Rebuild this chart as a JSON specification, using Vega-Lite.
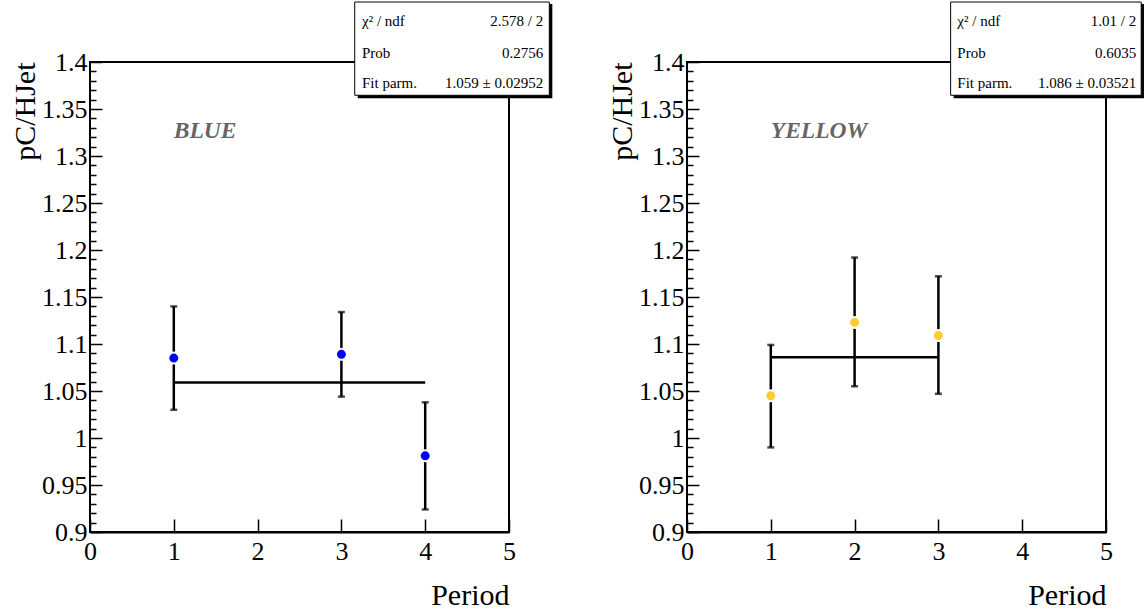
{
  "$schema": "https://vega.github.io/schema/vega-lite/v6.json",
  "padding": {"left": 9, "top": 0, "right": 0, "bottom": 0},
  "background": "white",
  "datasets": {
    "points": [
      {"panel": "BLUE", "period": 1, "ratio": 1.085, "lo": 1.030, "hi": 1.140},
      {"panel": "BLUE", "period": 3, "ratio": 1.089, "lo": 1.044, "hi": 1.134},
      {"panel": "BLUE", "period": 4, "ratio": 0.981, "lo": 0.924, "hi": 1.038},
      {"panel": "YELLOW", "period": 1, "ratio": 1.045, "lo": 0.990, "hi": 1.099},
      {"panel": "YELLOW", "period": 2, "ratio": 1.123, "lo": 1.055, "hi": 1.192},
      {"panel": "YELLOW", "period": 3, "ratio": 1.109, "lo": 1.047, "hi": 1.172}
    ],
    "fits": [
      {"panel": "BLUE", "from": 1, "to": 4, "value": 1.059},
      {"panel": "YELLOW", "from": 1, "to": 3, "value": 1.086}
    ],
    "stats": [
      {"panel": "BLUE", "row": 1, "key": "χ² / ndf", "val": "2.578 / 2"},
      {"panel": "BLUE", "row": 2, "key": "Prob", "val": "0.2756"},
      {"panel": "BLUE", "row": 3, "key": "Fit parm.", "val": "1.059 ± 0.02952"},
      {"panel": "YELLOW", "row": 1, "key": "χ² / ndf", "val": "1.01 / 2"},
      {"panel": "YELLOW", "row": 2, "key": "Prob", "val": "0.6035"},
      {"panel": "YELLOW", "row": 3, "key": "Fit parm.", "val": "1.086 ± 0.03521"}
    ],
    "labels": [
      {"panel": "BLUE", "name": "BLUE"},
      {"panel": "YELLOW", "name": "YELLOW"}
    ]
  },
  "hconcat": [
    {
      "width": 419,
      "height": 470,
      "resolve": {"scale": {"y": "independent"}, "axis": {"y": "independent"}},
      "layer": [
        {
          "layer": [
            {"data": {"values": [{}]}, "mark": {"type": "rect", "color": "black"},
             "encoding": {"x": {"datum": 3.195, "type": "quantitative", "scale": {"domain": [0, 5], "nice": false, "zero": false}, "axis": {"values": [0, 1, 2, 3, 4, 5], "format": "~g", "title": "Period"}},
               "x2": {"datum": 5.517}, "y": {"datum": 1.4617, "type": "quantitative", "scale": {"domain": [0.9, 1.4], "nice": false, "zero": false},
                 "axis": {"title": "pC/HJet", "orient": "left", "offset": -12, "domain": false, "values": [0.9, 0.95, 1.0, 1.05, 1.1, 1.15, 1.2, 1.25, 1.3, 1.35, 1.4], "format": "~g", "tickSize": 12, "labelPadding": 3, "titleX": -62}}, "y2": {"datum": 1.3614}}},
            {"data": {"values": [{}]}, "mark": {"type": "rect", "fill": "white", "stroke": "black", "strokeWidth": 1},
             "encoding": {"x": {"datum": 3.159, "type": "quantitative"}, "x2": {"datum": 5.481}, "y": {"datum": 1.4638, "type": "quantitative"}, "y2": {"datum": 1.3646}}},
            {"data": {"name": "stats"}, "transform": [{"filter": "datum.panel == 'BLUE' && datum.row == 1"}],
             "mark": {"type": "text", "font": "Liberation Serif", "fontSize": 15, "align": "left", "baseline": "middle", "color": "black"},
             "encoding": {"x": {"datum": 3.246, "type": "quantitative"}, "y": {"datum": 1.4436, "type": "quantitative"}, "text": {"field": "key"}}},
            {"data": {"name": "stats"}, "transform": [{"filter": "datum.panel == 'BLUE' && datum.row == 1"}],
             "mark": {"type": "text", "font": "Liberation Serif", "fontSize": 15, "align": "right", "baseline": "middle", "color": "black"},
             "encoding": {"x": {"datum": 5.409, "type": "quantitative"}, "y": {"datum": 1.4436, "type": "quantitative"}, "text": {"field": "val"}}},
            {"data": {"name": "stats"}, "transform": [{"filter": "datum.panel == 'BLUE' && datum.row == 2"}],
             "mark": {"type": "text", "font": "Liberation Serif", "fontSize": 15, "align": "left", "baseline": "middle", "color": "black"},
             "encoding": {"x": {"datum": 3.246, "type": "quantitative"}, "y": {"datum": 1.4096, "type": "quantitative"}, "text": {"field": "key"}}},
            {"data": {"name": "stats"}, "transform": [{"filter": "datum.panel == 'BLUE' && datum.row == 2"}],
             "mark": {"type": "text", "font": "Liberation Serif", "fontSize": 15, "align": "right", "baseline": "middle", "color": "black"},
             "encoding": {"x": {"datum": 5.409, "type": "quantitative"}, "y": {"datum": 1.4096, "type": "quantitative"}, "text": {"field": "val"}}},
            {"data": {"name": "stats"}, "transform": [{"filter": "datum.panel == 'BLUE' && datum.row == 3"}],
             "mark": {"type": "text", "font": "Liberation Serif", "fontSize": 15, "align": "left", "baseline": "middle", "color": "black"},
             "encoding": {"x": {"datum": 3.246, "type": "quantitative"}, "y": {"datum": 1.3777, "type": "quantitative"}, "text": {"field": "key"}}},
            {"data": {"name": "stats"}, "transform": [{"filter": "datum.panel == 'BLUE' && datum.row == 3"}],
             "mark": {"type": "text", "font": "Liberation Serif", "fontSize": 15, "align": "right", "baseline": "middle", "color": "black"},
             "encoding": {"x": {"datum": 5.409, "type": "quantitative"}, "y": {"datum": 1.3777, "type": "quantitative"}, "text": {"field": "val"}}},
            {"data": {"name": "fits"}, "transform": [{"filter": "datum.panel == 'BLUE'"}],
             "mark": {"type": "rule", "color": "black", "strokeWidth": 2.5},
             "encoding": {"x": {"field": "from", "type": "quantitative"}, "x2": {"field": "to"}, "y": {"field": "value", "type": "quantitative"}}},
            {"data": {"name": "points"}, "transform": [{"filter": "datum.panel == 'BLUE'"}],
             "mark": {"type": "rule", "color": "black", "strokeWidth": 2.5},
             "encoding": {"x": {"field": "period", "type": "quantitative"}, "y": {"field": "lo", "type": "quantitative"}, "y2": {"field": "hi"}}},
            {"data": {"name": "points"}, "transform": [{"filter": "datum.panel == 'BLUE'"}],
             "mark": {"type": "tick", "orient": "horizontal", "color": "black", "size": 7, "thickness": 2.5},
             "encoding": {"x": {"field": "period", "type": "quantitative"}, "y": {"field": "lo", "type": "quantitative"}}},
            {"data": {"name": "points"}, "transform": [{"filter": "datum.panel == 'BLUE'"}],
             "mark": {"type": "tick", "orient": "horizontal", "color": "black", "size": 7, "thickness": 2.5},
             "encoding": {"x": {"field": "period", "type": "quantitative"}, "y": {"field": "hi", "type": "quantitative"}}},
            {"data": {"name": "points"}, "transform": [{"filter": "datum.panel == 'BLUE'"}],
             "mark": {"type": "point", "shape": "circle", "filled": true, "fill": "#0000ff", "stroke": "white", "strokeWidth": 2, "size": 121, "opacity": 1},
             "encoding": {"x": {"field": "period", "type": "quantitative"}, "y": {"field": "ratio", "type": "quantitative"}}},
            {"data": {"name": "labels"}, "transform": [{"filter": "datum.panel == 'BLUE'"}],
             "mark": {"type": "text", "font": "Liberation Serif", "fontSize": 23.5, "fontWeight": "bold", "fontStyle": "italic", "color": "#666666", "align": "left", "baseline": "middle"},
             "encoding": {"x": {"datum": 1.0, "type": "quantitative"}, "y": {"datum": 1.3266, "type": "quantitative"}, "text": {"field": "name"}}}
          ]
        },
        {"data": {"values": [{}]}, "mark": {"type": "rule", "strokeOpacity": 0},
         "encoding": {"y": {"datum": 1.0, "type": "quantitative", "scale": {"domain": [0.9, 1.4], "nice": false, "zero": false},
           "axis": {"orient": "left", "offset": -6, "values": [0.91, 0.92, 0.93, 0.94, 0.96, 0.97, 0.98, 0.99, 1.01, 1.02, 1.03, 1.04, 1.06, 1.07, 1.08, 1.09, 1.11, 1.12, 1.13, 1.14, 1.16, 1.17, 1.18, 1.19, 1.21, 1.22, 1.23, 1.24, 1.26, 1.27, 1.28, 1.29, 1.31, 1.32, 1.33, 1.34, 1.36, 1.37, 1.38, 1.39], "labels": false, "domain": false, "tickSize": 6, "title": null}}}}
      ]
    },
    {
      "width": 419,
      "height": 470,
      "resolve": {"scale": {"y": "independent"}, "axis": {"y": "independent"}},
      "layer": [
        {
          "layer": [
            {"data": {"values": [{}]}, "mark": {"type": "rect", "color": "black"},
             "encoding": {"x": {"datum": 3.182, "type": "quantitative", "scale": {"domain": [0, 5], "nice": false, "zero": false}, "axis": {"values": [0, 1, 2, 3, 4, 5], "format": "~g", "title": "Period"}},
               "x2": {"datum": 5.453}, "y": {"datum": 1.4617, "type": "quantitative", "scale": {"domain": [0.9, 1.4], "nice": false, "zero": false},
                 "axis": {"title": "pC/HJet", "orient": "left", "offset": -12, "domain": false, "values": [0.9, 0.95, 1.0, 1.05, 1.1, 1.15, 1.2, 1.25, 1.3, 1.35, 1.4], "format": "~g", "tickSize": 12, "labelPadding": 3, "titleX": -62}}, "y2": {"datum": 1.3614}}},
            {"data": {"values": [{}]}, "mark": {"type": "rect", "fill": "white", "stroke": "black", "strokeWidth": 1},
             "encoding": {"x": {"datum": 3.146, "type": "quantitative"}, "x2": {"datum": 5.42}, "y": {"datum": 1.4638, "type": "quantitative"}, "y2": {"datum": 1.3646}}},
            {"data": {"name": "stats"}, "transform": [{"filter": "datum.panel == 'YELLOW' && datum.row == 1"}],
             "mark": {"type": "text", "font": "Liberation Serif", "fontSize": 15, "align": "left", "baseline": "middle", "color": "black"},
             "encoding": {"x": {"datum": 3.226, "type": "quantitative"}, "y": {"datum": 1.4436, "type": "quantitative"}, "text": {"field": "key"}}},
            {"data": {"name": "stats"}, "transform": [{"filter": "datum.panel == 'YELLOW' && datum.row == 1"}],
             "mark": {"type": "text", "font": "Liberation Serif", "fontSize": 15, "align": "right", "baseline": "middle", "color": "black"},
             "encoding": {"x": {"datum": 5.36, "type": "quantitative"}, "y": {"datum": 1.4436, "type": "quantitative"}, "text": {"field": "val"}}},
            {"data": {"name": "stats"}, "transform": [{"filter": "datum.panel == 'YELLOW' && datum.row == 2"}],
             "mark": {"type": "text", "font": "Liberation Serif", "fontSize": 15, "align": "left", "baseline": "middle", "color": "black"},
             "encoding": {"x": {"datum": 3.226, "type": "quantitative"}, "y": {"datum": 1.4096, "type": "quantitative"}, "text": {"field": "key"}}},
            {"data": {"name": "stats"}, "transform": [{"filter": "datum.panel == 'YELLOW' && datum.row == 2"}],
             "mark": {"type": "text", "font": "Liberation Serif", "fontSize": 15, "align": "right", "baseline": "middle", "color": "black"},
             "encoding": {"x": {"datum": 5.36, "type": "quantitative"}, "y": {"datum": 1.4096, "type": "quantitative"}, "text": {"field": "val"}}},
            {"data": {"name": "stats"}, "transform": [{"filter": "datum.panel == 'YELLOW' && datum.row == 3"}],
             "mark": {"type": "text", "font": "Liberation Serif", "fontSize": 15, "align": "left", "baseline": "middle", "color": "black"},
             "encoding": {"x": {"datum": 3.226, "type": "quantitative"}, "y": {"datum": 1.3777, "type": "quantitative"}, "text": {"field": "key"}}},
            {"data": {"name": "stats"}, "transform": [{"filter": "datum.panel == 'YELLOW' && datum.row == 3"}],
             "mark": {"type": "text", "font": "Liberation Serif", "fontSize": 15, "align": "right", "baseline": "middle", "color": "black"},
             "encoding": {"x": {"datum": 5.36, "type": "quantitative"}, "y": {"datum": 1.3777, "type": "quantitative"}, "text": {"field": "val"}}},
            {"data": {"name": "fits"}, "transform": [{"filter": "datum.panel == 'YELLOW'"}],
             "mark": {"type": "rule", "color": "black", "strokeWidth": 2.5},
             "encoding": {"x": {"field": "from", "type": "quantitative"}, "x2": {"field": "to"}, "y": {"field": "value", "type": "quantitative"}}},
            {"data": {"name": "points"}, "transform": [{"filter": "datum.panel == 'YELLOW'"}],
             "mark": {"type": "rule", "color": "black", "strokeWidth": 2.5},
             "encoding": {"x": {"field": "period", "type": "quantitative"}, "y": {"field": "lo", "type": "quantitative"}, "y2": {"field": "hi"}}},
            {"data": {"name": "points"}, "transform": [{"filter": "datum.panel == 'YELLOW'"}],
             "mark": {"type": "tick", "orient": "horizontal", "color": "black", "size": 7, "thickness": 2.5},
             "encoding": {"x": {"field": "period", "type": "quantitative"}, "y": {"field": "lo", "type": "quantitative"}}},
            {"data": {"name": "points"}, "transform": [{"filter": "datum.panel == 'YELLOW'"}],
             "mark": {"type": "tick", "orient": "horizontal", "color": "black", "size": 7, "thickness": 2.5},
             "encoding": {"x": {"field": "period", "type": "quantitative"}, "y": {"field": "hi", "type": "quantitative"}}},
            {"data": {"name": "points"}, "transform": [{"filter": "datum.panel == 'YELLOW'"}],
             "mark": {"type": "point", "shape": "circle", "filled": true, "fill": "#ffcc33", "stroke": "white", "strokeWidth": 2, "size": 121, "opacity": 1},
             "encoding": {"x": {"field": "period", "type": "quantitative"}, "y": {"field": "ratio", "type": "quantitative"}}},
            {"data": {"name": "labels"}, "transform": [{"filter": "datum.panel == 'YELLOW'"}],
             "mark": {"type": "text", "font": "Liberation Serif", "fontSize": 23.5, "fontWeight": "bold", "fontStyle": "italic", "color": "#666666", "align": "left", "baseline": "middle"},
             "encoding": {"x": {"datum": 1.0, "type": "quantitative"}, "y": {"datum": 1.3266, "type": "quantitative"}, "text": {"field": "name"}}}
          ]
        },
        {"data": {"values": [{}]}, "mark": {"type": "rule", "strokeOpacity": 0},
         "encoding": {"y": {"datum": 1.0, "type": "quantitative", "scale": {"domain": [0.9, 1.4], "nice": false, "zero": false},
           "axis": {"orient": "left", "offset": -6, "values": [0.91, 0.92, 0.93, 0.94, 0.96, 0.97, 0.98, 0.99, 1.01, 1.02, 1.03, 1.04, 1.06, 1.07, 1.08, 1.09, 1.11, 1.12, 1.13, 1.14, 1.16, 1.17, 1.18, 1.19, 1.21, 1.22, 1.23, 1.24, 1.26, 1.27, 1.28, 1.29, 1.31, 1.32, 1.33, 1.34, 1.36, 1.37, 1.38, 1.39], "labels": false, "domain": false, "tickSize": 6, "title": null}}}}
      ]
    }
  ],
  "spacing": 178,
  "bounds": "flush",
  "config": {
    "view": {"stroke": "black", "strokeWidth": 2},
    "axis": {
      "grid": false,
      "ticks": true,
      "zindex": 1,
      "labelFont": "Liberation Serif",
      "labelFontSize": 26,
      "labelColor": "black",
      "labelOverlap": false,
      "labelFlush": false,
      "labelBound": false,
      "titleFont": "Liberation Serif",
      "titleFontSize": 30,
      "titleFontWeight": "normal",
      "titleColor": "black",
      "domainColor": "black",
      "domainWidth": 2,
      "tickColor": "black",
      "tickWidth": 1.5
    },
    "axisX": {
      "tickSize": -13,
      "labelPadding": 19,
      "labelBaseline": "top",
      "titleAnchor": "end",
      "titleAlign": "right",
      "titleBaseline": "alphabetic",
      "titleY": 72
    },
    "axisY": {
      "labelBaseline": "middle",
      "titleAnchor": "end",
      "titleAngle": 270,
      "titleAlign": "right",
      "titleBaseline": "bottom",
      "titleY": 0
    }
  }
}
